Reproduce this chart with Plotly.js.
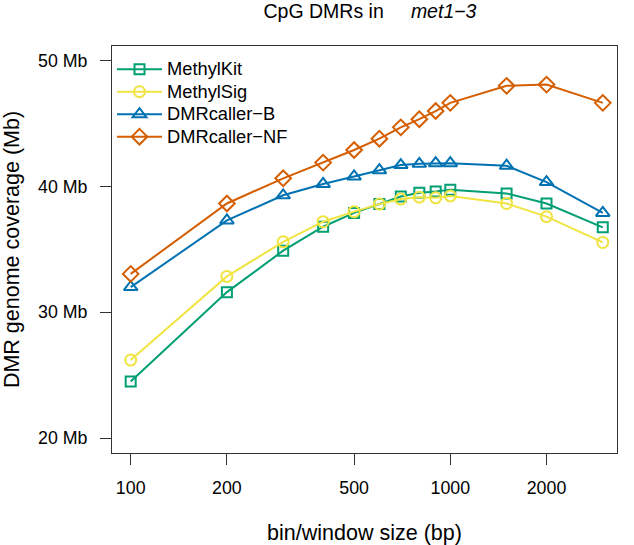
<!DOCTYPE html>
<html>
<head>
<meta charset="utf-8">
<script src="https://cdn.plot.ly/plotly-3.0.1.min.js"></script>
<style>html,body{margin:0;padding:0;background:#fff;}#chart{width:634px;height:545px;}</style>
</head>
<body>
<div id="chart"></div>
<script>
const binSizes = [100, 200, 300, 400, 500, 600, 700, 800, 900, 1000, 1500, 2000, 3000];
const methylKit = [24.5, 31.6, 34.9, 36.8, 37.9, 38.6, 39.2, 39.5, 39.6, 39.75, 39.45, 38.65, 36.75];
const methylSig = [26.2, 32.85, 35.6, 37.2, 38.0, 38.6, 39.0, 39.15, 39.1, 39.25, 38.65, 37.6, 35.55];
const dmrCallerB = [32.0, 37.3, 39.3, 40.2, 40.8, 41.3, 41.7, 41.8, 41.85, 41.85, 41.65, 40.35, 37.9];
const dmrCallerNF = [33.05, 38.65, 40.65, 41.9, 42.9, 43.8, 44.7, 45.35, 46.0, 46.65, 48.0, 48.1, 46.65];
const seriesNames = ["MethylKit", "MethylSig", "DMRcaller-B", "DMRcaller-NF"];
const xTicks = [100, 200, 500, 1000, 2000];
const yTicks = [20, 30, 40, 50];
const yTickText = ["20 Mb", "30 Mb", "40 Mb", "50 Mb"];

const colors = ["#009E73", "#F0E442", "#0072B2", "#D55E00"];
const symbols = ["square-open", "circle-open", "triangle-up-open", "diamond-open"];
const sizes = [10, 11, 12, 12];
const allY = [methylKit, methylSig, dmrCallerB, dmrCallerNF];

const traces = allY.map((ys, i) => ({
  x: binSizes, y: ys,
  name: '<span style="font-size:18.3px">' + seriesNames[i].replace("-", "\u2212") + '</span>',
  type: "scatter", mode: "lines+markers",
  line: {color: colors[i], width: 2},
  marker: {symbol: symbols[i], size: sizes[i], color: colors[i], line: {color: colors[i], width: 2}}
}));

const font = {family: "Liberation Sans, Arial, sans-serif", color: "#000"};
const layout = {
  width: 634, height: 545,
  margin: {l: 112, r: 17, t: 46, b: 92},
  paper_bgcolor: "#fff", plot_bgcolor: "#fff",
  font: Object.assign({size: 17}, font),
  title: {text: "CpG DMRs in\u00a0\u00a0\u00a0\u00a0\u00a0<i>met1\u22123</i>", x: 0.5836, xanchor: "center", y: 0.979, yanchor: "middle",
          font: Object.assign({size: 19.5}, font)},
  showlegend: true,
  legend: {x: 0.0, y: 0.983, xanchor: "left", yanchor: "top", bgcolor: "rgba(0,0,0,0)",
           font: Object.assign({size: 15}, font), tracegroupgap: 0, itemwidth: 45},
  xaxis: {
    type: "log", range: [1.9415, 3.5216], tickvals: xTicks, ticktext: xTicks.map(String),
    ticks: "outside", ticklen: 11, tickcolor: "#333", tickwidth: 1, ticklabelstandoff: 8,
    showline: true, mirror: true, linecolor: "#333", linewidth: 1,
    showgrid: false, zeroline: false, automargin: false,
    tickfont: Object.assign({size: 17.8}, font),
    title: {text: "bin/window size (bp)", font: Object.assign({size: 21.5}, font), standoff: 27}
  },
  yaxis: {
    range: [18.81, 51.17], tickvals: yTicks, ticktext: yTickText,
    ticks: "outside", ticklen: 11, tickcolor: "#333", tickwidth: 1, ticklabelstandoff: 9,
    showline: true, mirror: true, linecolor: "#333", linewidth: 1,
    showgrid: false, zeroline: false, automargin: false,
    tickfont: Object.assign({size: 17.8}, font),
    title: {text: "DMR genome coverage (Mb)", font: Object.assign({size: 21.5}, font), standoff: 15}
  }
};
Plotly.newPlot("chart", traces, layout, {displayModeBar: false, staticPlot: true});
</script>
</body>
</html>
